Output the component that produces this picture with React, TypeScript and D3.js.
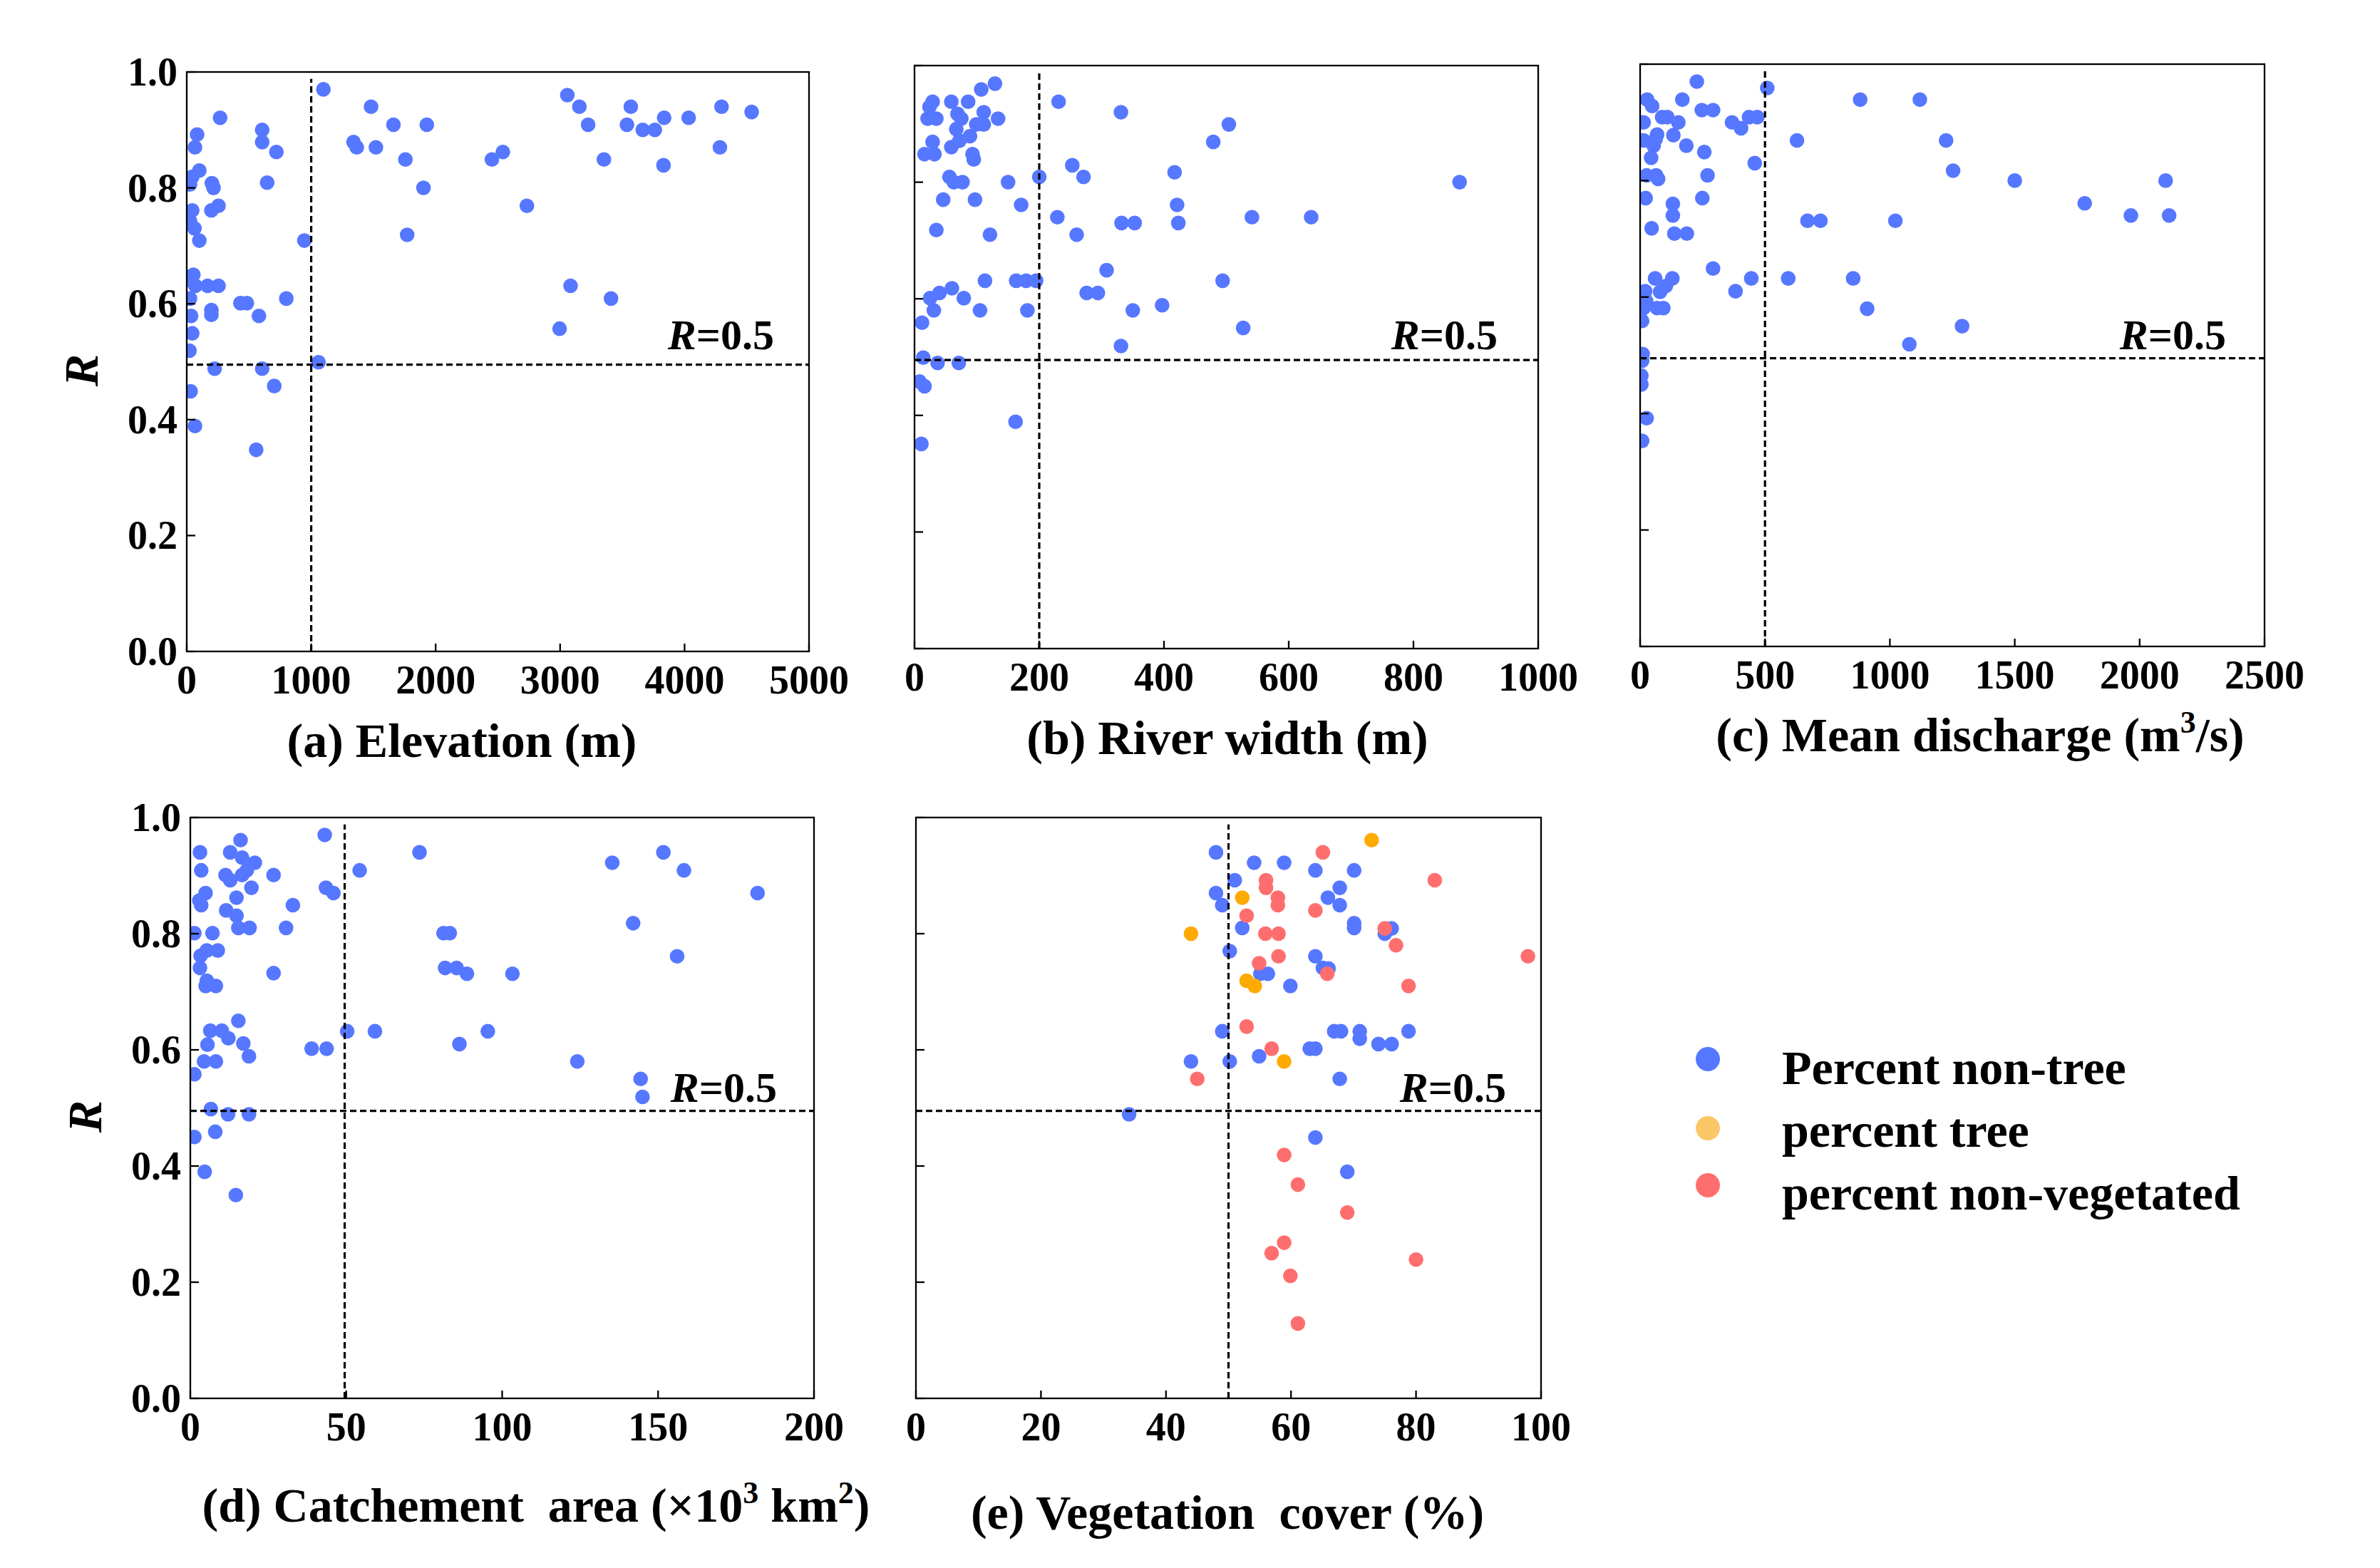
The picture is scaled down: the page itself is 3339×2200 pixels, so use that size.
import { useEffect, useRef } from "react";
import * as d3 from "d3";

const W = 3339;
const H = 2200;
const FONT = "'Liberation Serif', 'Times New Roman', serif";

const BLUE = "#5677FF";
const ORANGE = "#FFAA00";
const RED = "#FF6E6E";
const LEGEND_ORANGE = "#FBC766";

// y axis (correlation R) shared by all panels
const rTicks = [0, 0.2, 0.4, 0.6, 0.8, 1.0];
const R_LINE = 0.495;

// (a) elevation
const elevTicks = [0, 1000, 2000, 3000, 4000, 5000];
const elevX = [1098, 268, 83, 66, 101, 44, 26, 202, 215, 44, 198, 255, 26, 62, 101, 53, 35, 70, 26, 167, 255, 198, 198, 431, 483, 580, 35, 44, 22, 224, 606, 703, 31, 66, 558, 606, 606, 720, 646, 945, 800, 1059, 1340, 1366, 1481, 1520, 1661, 1757, 1771, 1902, 1929, 2452, 2540, 2733, 3058, 3155, 3225, 3352, 3084, 2996, 3409, 3537, 3568, 3664, 3761, 3836, 3831, 4033, 4297, 4284, 4539];
const elevR = [0.97, 0.921, 0.892, 0.87, 0.83, 0.819, 0.806, 0.808, 0.8, 0.761, 0.761, 0.769, 0.743, 0.73, 0.709, 0.65, 0.64, 0.631, 0.609, 0.631, 0.631, 0.589, 0.581, 0.601, 0.601, 0.579, 0.579, 0.549, 0.519, 0.488, 0.488, 0.458, 0.449, 0.389, 0.348, 0.9, 0.879, 0.862, 0.809, 0.709, 0.609, 0.499, 0.879, 0.87, 0.94, 0.87, 0.909, 0.849, 0.719, 0.8, 0.909, 0.849, 0.862, 0.769, 0.96, 0.94, 0.909, 0.849, 0.631, 0.557, 0.609, 0.909, 0.94, 0.9, 0.9, 0.921, 0.839, 0.921, 0.94, 0.87, 0.931];

// (b) river width
const widthTicks = [0, 200, 400, 600, 800, 1000];
const widthX = [129, 107, 29, 24, 59, 86, 21, 35, 69, 75, 111, 134, 99, 111, 67, 89, 29, 59, 72, 16, 32, 93, 95, 56, 63, 77, 150, 200, 46, 97, 171, 35, 121, 229, 253, 271, 260, 231, 331, 332, 353, 417, 421, 423, 479, 504, 541, 636, 874, 113, 163, 179, 195, 308, 276, 294, 494, 60, 40, 25, 79, 31, 105, 181, 350, 397, 527, 331, 12, 14, 37, 71, 8, 16, 162, 11];
const widthR = [0.969, 0.959, 0.938, 0.929, 0.938, 0.938, 0.909, 0.909, 0.917, 0.909, 0.92, 0.909, 0.899, 0.899, 0.891, 0.879, 0.869, 0.86, 0.871, 0.848, 0.848, 0.848, 0.839, 0.809, 0.8, 0.8, 0.8, 0.809, 0.77, 0.77, 0.761, 0.718, 0.71, 0.74, 0.829, 0.809, 0.71, 0.938, 0.92, 0.73, 0.73, 0.817, 0.761, 0.73, 0.869, 0.899, 0.74, 0.74, 0.8, 0.631, 0.631, 0.631, 0.631, 0.649, 0.61, 0.61, 0.631, 0.618, 0.61, 0.601, 0.601, 0.58, 0.58, 0.58, 0.58, 0.589, 0.55, 0.519, 0.559, 0.499, 0.49, 0.49, 0.458, 0.45, 0.389, 0.351];

// (c) mean discharge
const dischargeTicks = [0, 500, 1000, 1500, 2000, 2500];
const dischargeX = [227, 509, 28, 48, 169, 881, 1120, 247, 292, 88, 109, 153, 14, 368, 404, 436, 469, 68, 133, 14, 54, 62, 185, 257, 44, 628, 1225, 459, 1253, 1500, 2104, 26, 64, 72, 270, 22, 249, 131, 131, 1780, 1965, 2118, 670, 722, 1022, 46, 137, 187, 292, 60, 129, 445, 593, 853, 103, 80, 20, 382, 24, 68, 93, 14, 909, 8, 1289, 1078, 10, 8, 5, 5, 26, 8];
const dischargeR = [0.97, 0.959, 0.939, 0.928, 0.939, 0.939, 0.939, 0.921, 0.921, 0.909, 0.909, 0.9, 0.9, 0.9, 0.89, 0.909, 0.909, 0.879, 0.878, 0.869, 0.86, 0.871, 0.86, 0.849, 0.839, 0.869, 0.869, 0.83, 0.817, 0.8, 0.8, 0.809, 0.809, 0.803, 0.809, 0.77, 0.77, 0.76, 0.74, 0.761, 0.74, 0.74, 0.731, 0.731, 0.731, 0.718, 0.709, 0.709, 0.649, 0.632, 0.632, 0.632, 0.632, 0.632, 0.619, 0.609, 0.61, 0.61, 0.593, 0.581, 0.581, 0.581, 0.58, 0.559, 0.55, 0.519, 0.502, 0.491, 0.465, 0.45, 0.392, 0.353];

// (d) catchment area (x10^3 km2)
const areaTicks = [0, 50, 100, 150, 200];
const areaX = [43.1, 16.1, 3.1, 12.8, 16.6, 73.5, 151.7, 135.3, 20.7, 18.1, 3.5, 54.3, 158.3, 11.3, 12.8, 26.7, 16.6, 19.6, 43.5, 45.9, 181.9, 4.9, 2.9, 14.8, 32.9, 3.5, 11.5, 14.8, 142.0, 15.4, 19.0, 30.7, 1.3, 7.1, 81.2, 83.2, 5.3, 8.8, 3.3, 156.1, 3.1, 81.7, 85.4, 88.7, 103.3, 26.7, 5.3, 4.9, 8.2, 15.4, 6.4, 10.1, 50.3, 59.2, 95.4, 12.2, 5.5, 17.0, 86.3, 38.9, 43.7, 4.4, 8.2, 18.8, 124.1, 1.3, 144.4, 145.0, 6.6, 12.1, 18.8, 8.0, 1.3, 4.6, 14.6];
const areaR = [0.97, 0.961, 0.94, 0.94, 0.931, 0.94, 0.94, 0.922, 0.922, 0.909, 0.909, 0.909, 0.909, 0.901, 0.892, 0.901, 0.901, 0.879, 0.879, 0.87, 0.87, 0.87, 0.857, 0.862, 0.849, 0.849, 0.84, 0.831, 0.818, 0.81, 0.81, 0.81, 0.801, 0.801, 0.801, 0.801, 0.771, 0.771, 0.762, 0.761, 0.741, 0.741, 0.741, 0.731, 0.731, 0.732, 0.719, 0.71, 0.71, 0.65, 0.633, 0.633, 0.632, 0.632, 0.632, 0.62, 0.609, 0.611, 0.61, 0.602, 0.602, 0.58, 0.58, 0.589, 0.58, 0.558, 0.55, 0.519, 0.498, 0.489, 0.489, 0.459, 0.45, 0.39, 0.35];

// (e) vegetation cover (%)
const vegTicks = [0, 20, 40, 60, 80, 100];
const nonTreeX = [48.0, 54.1, 58.9, 63.9, 70.1, 51.0, 67.8, 48.0, 65.9, 49.0, 67.8, 70.1, 70.1, 52.2, 75.0, 76.1, 50.2, 63.9, 65.1, 66.0, 55.1, 56.3, 59.9, 49.0, 66.9, 68.0, 71.0, 71.0, 78.8, 74.0, 76.1, 63.0, 63.9, 54.9, 44.0, 50.2, 67.8, 34.1, 63.9, 69.0];
const nonTreeR = [0.94, 0.922, 0.922, 0.909, 0.909, 0.892, 0.879, 0.87, 0.862, 0.849, 0.849, 0.818, 0.81, 0.81, 0.8, 0.809, 0.77, 0.761, 0.741, 0.74, 0.731, 0.731, 0.71, 0.632, 0.632, 0.632, 0.632, 0.619, 0.632, 0.61, 0.61, 0.602, 0.602, 0.589, 0.58, 0.58, 0.55, 0.489, 0.449, 0.39];
const treeX = [72.9, 52.2, 44.0, 52.9, 54.2, 58.9];
const treeR = [0.961, 0.862, 0.8, 0.719, 0.71, 0.58];
const nonVegX = [65.1, 83.0, 56.0, 56.0, 57.9, 57.9, 63.9, 52.9, 55.9, 58.0, 75.0, 76.8, 97.9, 58.0, 54.9, 65.8, 78.8, 52.9, 56.9, 45.0, 58.9, 61.1, 69.0, 58.9, 56.9, 80.0, 59.9, 61.1];
const nonVegR = [0.94, 0.892, 0.892, 0.879, 0.862, 0.849, 0.84, 0.831, 0.8, 0.8, 0.809, 0.78, 0.761, 0.761, 0.749, 0.731, 0.71, 0.64, 0.602, 0.55, 0.419, 0.368, 0.32, 0.268, 0.25, 0.239, 0.211, 0.129];

const legendLabels = ["Percent non-tree", "percent tree", "percent non-vegetated"];
const legendColors = [BLUE, LEGEND_ORANGE, RED];

type Series = { x: number[]; r: number[]; color: string };
type TitlePart = { t: string; sup?: boolean };
type Panel = {
  box: { x0: number; x1: number; y0: number; y1: number };
  xMax: number;
  xTicks: number[];
  threshold: number;
  series: Series[];
  title: TitlePart[];
  titleX: number;
  titleY: number;
  noteX: number;
  noteY: number;
  yLabels: boolean;
};

const panels: Panel[] = [
  {
    box: { x0: 262, x1: 1135, y0: 101, y1: 914 },
    xMax: 5000, xTicks: elevTicks, threshold: 1000,
    series: [{ x: elevX, r: elevR, color: BLUE }],
    title: [{ t: "(a) Elevation (m)" }], titleX: 648, titleY: 1062,
    noteX: 1086, noteY: 490, yLabels: true,
  },
  {
    box: { x0: 1283, x1: 2158, y0: 92, y1: 910 },
    xMax: 1000, xTicks: widthTicks, threshold: 200,
    series: [{ x: widthX, r: widthR, color: BLUE }],
    title: [{ t: "(b) River width (m)" }], titleX: 1722, titleY: 1058,
    noteX: 2101, noteY: 490, yLabels: false,
  },
  {
    box: { x0: 2301, x1: 3177, y0: 90, y1: 907 },
    xMax: 2500, xTicks: dischargeTicks, threshold: 500,
    series: [{ x: dischargeX, r: dischargeR, color: BLUE }],
    title: [{ t: "(c) Mean discharge (m" }, { t: "3", sup: true }, { t: "/s)" }],
    titleX: 2778, titleY: 1054,
    noteX: 3123, noteY: 490, yLabels: false,
  },
  {
    box: { x0: 267, x1: 1142, y0: 1147, y1: 1962 },
    xMax: 200, xTicks: areaTicks, threshold: 49.5,
    series: [{ x: areaX, r: areaR, color: BLUE }],
    title: [{ t: "(d) Catchement  area (×10" }, { t: "3", sup: true }, { t: " km" }, { t: "2", sup: true }, { t: ")" }],
    titleX: 752, titleY: 2135,
    noteX: 1090, noteY: 1546, yLabels: true,
  },
  {
    box: { x0: 1285, x1: 2162, y0: 1147, y1: 1962 },
    xMax: 100, xTicks: vegTicks, threshold: 50,
    series: [
      { x: nonTreeX, r: nonTreeR, color: BLUE },
      { x: treeX, r: treeR, color: ORANGE },
      { x: nonVegX, r: nonVegR, color: RED },
    ],
    title: [{ t: "(e) Vegetation  cover (%)" }], titleX: 1722, titleY: 2145,
    noteX: 2113, noteY: 1546, yLabels: false,
  },
];

export default function App() {
  const ref = useRef<SVGSVGElement | null>(null);

  useEffect(() => {
    if (!ref.current) return;
    const svg = d3.select(ref.current);
    svg.selectAll("*").remove();

    svg.append("rect").attr("width", W).attr("height", H).attr("fill", "#fff");

    panels.forEach((p, pi) => {
      const { x0, x1, y0, y1 } = p.box;
      const x = d3.scaleLinear().domain([0, p.xMax]).range([x0, x1]);
      const y = d3.scaleLinear().domain([0, 1]).range([y1, y0]);
      const g = svg.append("g");

      const clipId = `clip-${pi}`;
      g.append("clipPath")
        .attr("id", clipId)
        .append("rect")
        .attr("x", x0)
        .attr("y", y0)
        .attr("width", x1 - x0)
        .attr("height", y1 - y0);

      // points
      const pts = g.append("g").attr("clip-path", `url(#${clipId})`);
      p.series.forEach((s) => {
        s.x.forEach((v, i) => {
          pts
            .append("circle")
            .attr("cx", x(v))
            .attr("cy", y(s.r[i]))
            .attr("r", 10.3)
            .attr("fill", s.color);
        });
      });

      // reference lines
      g.append("line")
        .attr("x1", x0)
        .attr("x2", x1)
        .attr("y1", y(R_LINE))
        .attr("y2", y(R_LINE))
        .attr("stroke", "#000")
        .attr("stroke-width", 3.2)
        .attr("stroke-dasharray", "9,5");
      g.append("line")
        .attr("x1", x(p.threshold))
        .attr("x2", x(p.threshold))
        .attr("y1", y(0))
        .attr("y2", y(0.988))
        .attr("stroke", "#000")
        .attr("stroke-width", 3.2)
        .attr("stroke-dasharray", "9,5");

      // frame
      g.append("rect")
        .attr("x", x0)
        .attr("y", y0)
        .attr("width", x1 - x0)
        .attr("height", y1 - y0)
        .attr("fill", "none")
        .attr("stroke", "#000")
        .attr("stroke-width", 2.3);

      // ticks (inward)
      p.xTicks.forEach((t) => {
        g.append("line")
          .attr("x1", x(t))
          .attr("x2", x(t))
          .attr("y1", y1)
          .attr("y2", y1 - 11)
          .attr("stroke", "#000")
          .attr("stroke-width", 2.3);
        g.append("text")
          .attr("x", x(t))
          .attr("y", y1 + 59)
          .attr("text-anchor", "middle")
          .attr("font-family", FONT)
          .attr("font-weight", "bold")
          .attr("font-size", 56)
          .text(String(t));
      });
      rTicks.forEach((t) => {
        g.append("line")
          .attr("x1", x0)
          .attr("x2", x0 + 12)
          .attr("y1", y(t))
          .attr("y2", y(t))
          .attr("stroke", "#000")
          .attr("stroke-width", 2.3);
        if (p.yLabels) {
          g.append("text")
            .attr("x", x0 - 13)
            .attr("y", y(t) + 19)
            .attr("text-anchor", "end")
            .attr("font-family", FONT)
            .attr("font-weight", "bold")
            .attr("font-size", 56)
            .text(t.toFixed(1));
        }
      });

      if (p.yLabels) {
        const cy = (y0 + y1) / 2 + 12;
        g.append("text")
          .attr("transform", `translate(${x0 - 125},${cy}) rotate(-90)`)
          .attr("text-anchor", "middle")
          .attr("font-family", FONT)
          .attr("font-weight", "bold")
          .attr("font-style", "italic")
          .attr("font-size", 68)
          .text("R");
      }

      // R=0.5 note
      const note = g
        .append("text")
        .attr("x", p.noteX)
        .attr("y", p.noteY)
        .attr("text-anchor", "end")
        .attr("font-family", FONT)
        .attr("font-weight", "bold")
        .attr("font-size", 60);
      note.append("tspan").attr("font-style", "italic").text("R");
      note.append("tspan").text("=0.5");

      // title
      const title = g
        .append("text")
        .attr("x", p.titleX)
        .attr("y", p.titleY)
        .attr("text-anchor", "middle")
        .attr("font-family", FONT)
        .attr("font-weight", "bold")
        .attr("font-size", 68)
        .style("white-space", "pre");
      let raised = false;
      p.title.forEach((part) => {
        const ts = title.append("tspan").text(part.t);
        if (part.sup && !raised) {
          ts.attr("dy", -26).attr("font-size", 44);
          raised = true;
        } else if (part.sup) {
          ts.attr("font-size", 44);
        } else if (raised) {
          ts.attr("dy", 26);
          raised = false;
        }
      });
    });

    // legend
    const legendY = [1486, 1583, 1663];
    const textY = [1521, 1609, 1697];
    legendLabels.forEach((label, i) => {
      svg
        .append("circle")
        .attr("cx", 2396)
        .attr("cy", legendY[i])
        .attr("r", 17)
        .attr("fill", legendColors[i]);
      svg
        .append("text")
        .attr("x", 2500)
        .attr("y", textY[i])
        .attr("font-family", FONT)
        .attr("font-weight", "bold")
        .attr("font-size", 68)
        .text(label);
    });
  }, []);

  return (
    <svg
      ref={ref}
      width={W}
      height={H}
      style={{ position: "absolute", left: 0, top: 0 }}
    />
  );
}
